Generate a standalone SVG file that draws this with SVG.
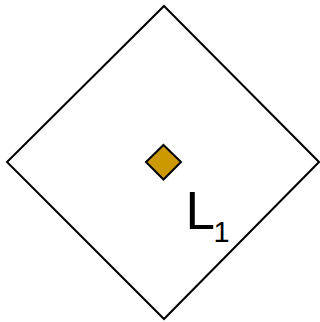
<svg xmlns="http://www.w3.org/2000/svg" width="320" height="322" viewBox="0 0 320 322">
<style>
.outline{fill:#ffffff;stroke:#000000;stroke-width:2}
.marker{fill:#cc9900;stroke:#000000;stroke-width:2}
.lbl{font-family:"Liberation Sans",Arial,sans-serif;fill:#000000}
</style>
<rect width="320" height="322" fill="#ffffff"/>
<g id="region">
<polygon class="outline" points="164,6 319,162 164,319 7,162"/>
</g>
<g id="point">
<polygon class="marker" points="163.5,145 181,162 163.5,179.5 146,162"/>
</g>
<g id="connectors"></g>
<g id="label">
<text class="lbl" x="185.5" y="229" font-size="53">L<tspan x="213.5" y="242" font-size="29">1</tspan></text>
</g>
</svg>
